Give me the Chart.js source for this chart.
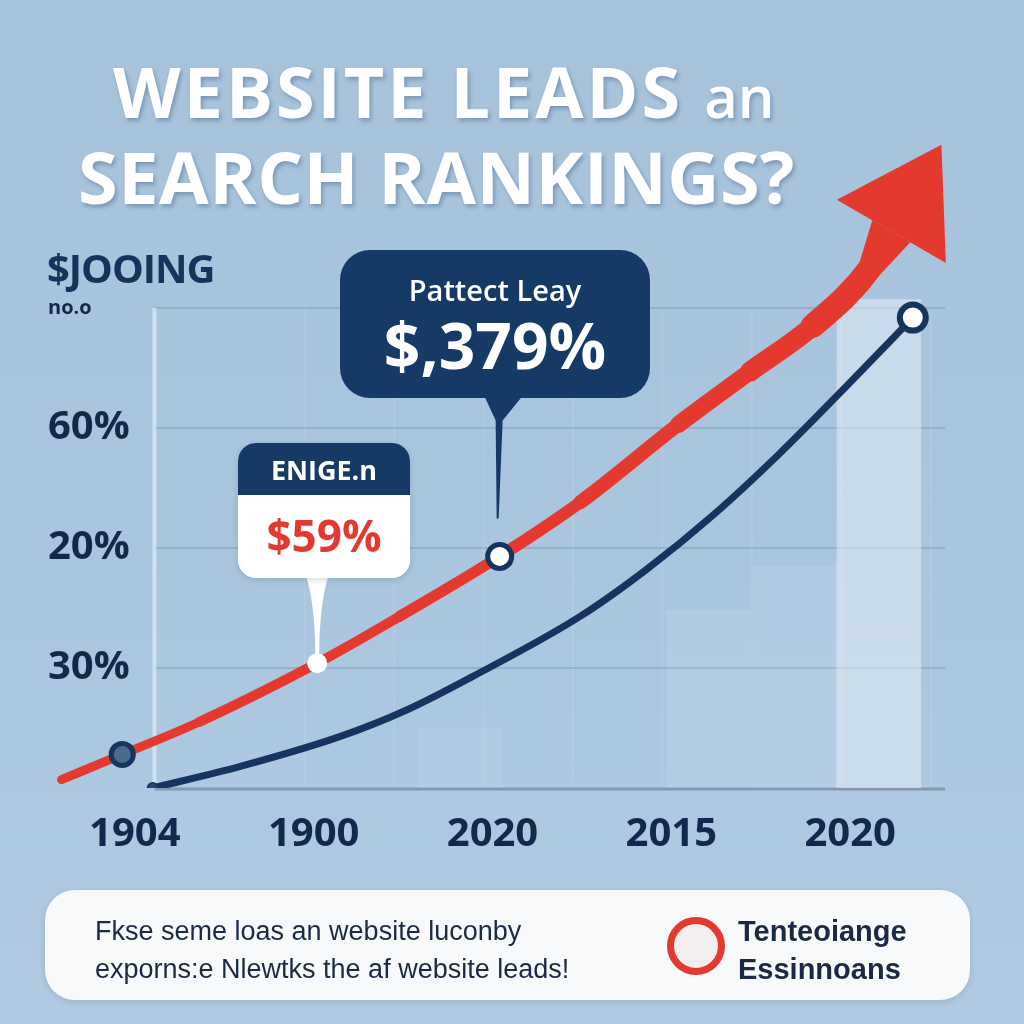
<!DOCTYPE html>
<html>
<head>
<meta charset="utf-8">
<script src="https://cdn.jsdelivr.net/npm/chart.js@4.4.1/dist/chart.umd.min.js"></script>
<style>
  html, body { margin:0; padding:0; }
  body {
    width:1024px; height:1024px; overflow:hidden; position:relative;
    background:linear-gradient(180deg, #a7c3dc 0%, #aac6df 55%, #b0cbe2 100%);
    font-family:"Open Sans", "Liberation Sans", sans-serif;
  }
  #chart { position:absolute; left:0; top:0; }
  .title {
    position:absolute; color:#fff; font-weight:700; white-space:nowrap;
    text-shadow:2px 3px 4px rgba(40,70,110,0.35); line-height:1;
  }
  #t1 { left:113px; top:56px; font-size:70px; letter-spacing:3px; }
  #t1 span { font-size:58px; font-weight:600; letter-spacing:0; }
  #t2 { left:78px; top:140px; font-size:72px; letter-spacing:0.5px; }
  #ylab {
    position:absolute; left:47px; top:248px; font-size:40px; font-weight:700;
    color:#16335a; letter-spacing:-1px; line-height:1;
  }
  .box { position:absolute; overflow:hidden; text-align:center; }
  #small {
    left:238px; top:443px; width:172px; height:135px; border-radius:18px;
    background:#fff; box-shadow:0 2px 6px rgba(30,60,100,0.2);
  }
  #small .head {
    height:52px; background:#163a66; color:#fff; font-weight:700;
    font-size:27px; line-height:54px;
  }
  #small .val { color:#e23a30; font-weight:700; font-size:44px; line-height:80px; }
  #big {
    left:340px; top:250px; width:310px; height:148px; border-radius:30px;
    background:#163a66; color:#fff;
  }
  #big .head { font-size:29px; font-weight:600; margin-top:20px; line-height:40px; }
  #big .val { font-size:64px; font-weight:700; line-height:70px; }
  #banner {
    position:absolute; left:45px; top:890px; width:925px; height:110px;
    border-radius:30px; background:#f7f9fb; box-shadow:0 2px 6px rgba(30,60,100,0.15);
  }
  #btext {
    position:absolute; left:50px; top:22px; font-family:"Liberation Sans", Arial, sans-serif;
    font-size:27px; line-height:38px; color:#1b2a44;
  }
  #logo {
    position:absolute; left:622px; top:27px; width:44px; height:44px; border-radius:50%;
    border:7px solid #e23a30; background:#f3eeee;
  }
  #lname {
    position:absolute; left:693px; top:22px; font-family:"Liberation Sans", Arial, sans-serif;
    font-size:29px; font-weight:700; line-height:38px; color:#1b2a44;
  }
</style>
</head>
<body>
<canvas id="chart" width="1024" height="1024"></canvas>

<div class="title" id="t1">WEBSITE LEADS <span>an</span></div>
<div class="title" id="t2">SEARCH RANKINGS?</div>
<div id="ylab">$JOOING</div>

<div class="box" id="big">
  <div class="head">Pattect Leay</div>
  <div class="val">$,379%</div>
</div>
<div class="box" id="small">
  <div class="head">ENIGE.n</div>
  <div class="val">$59%</div>
</div>

<div id="banner">
  <div id="btext">Fkse seme loas an website luconby<br>exporns:e Nlewtks the af website leads!</div>
  <div id="logo"></div>
  <div id="lname">Tenteoiange<br>Essinnoans</div>
</div>

<script>
// x categories sit at positions 0..4
const xLabels = ["1904", "1900", "2020", "2015", "2020"];
// y levels 1..4 (labels as printed)
const yTickLabels = ["30%", "20%", "60%", "no.o"];

// red "leads" line, last point is the arrow tip
const leadsX = [-0.41, -0.07, 0.36, 1.02, 1.48, 2.04, 2.49, 3.04, 3.44, 3.79, 4.11, 4.51];
const leadsY = [0.07, 0.28, 0.55, 1.04, 1.43, 1.93, 2.38, 3.03, 3.47, 3.85, 4.33, 5.36];

// navy "rankings" line
const rankX = [0.10, 0.59, 1.15, 1.52, 1.89, 2.49, 2.86, 3.23, 3.60, 3.98, 4.35];
const rankY = [0.00, 0.18, 0.43, 0.65, 0.93, 1.43, 1.82, 2.27, 2.78, 3.35, 3.92];

// faint background panels
const panelX = [1.82, 3.21, 3.69, 4.16];
const panelY = [0.50, 1.48, 1.84, 4.07];

const NAVY = "#15355e";
const RED = "#e4392e";
const redWidths = [9, 9, 10, 10, 11, 12, 14, 17, 20, 24];

const pts = (xs, ys) => xs.map((x, i) => ({ x: x, y: ys[i] }));

const gridPlugin = {
  id: "grid",
  beforeDatasetsDraw(chart) {
    const { ctx, scales: { x, y } } = chart;
    const left = x.getPixelForValue(0.11);
    const right = x.getPixelForValue(4.53);
    ctx.save();
    ctx.strokeStyle = "rgba(255,255,255,0.10)";
    ctx.lineWidth = 1.5;
    for (let v = 1; v <= 4.5; v += 0.5) {
      const px = x.getPixelForValue(v - 0.05);
      ctx.beginPath();
      ctx.moveTo(px, y.getPixelForValue(4));
      ctx.lineTo(px, y.getPixelForValue(0));
      ctx.stroke();
    }
    ctx.strokeStyle = "rgba(80,118,158,0.35)";
    ctx.lineWidth = 1.5;
    [1, 2, 3, 4].forEach(v => {
      const py = y.getPixelForValue(v);
      ctx.beginPath();
      ctx.moveTo(left, py);
      ctx.lineTo(right, py);
      ctx.stroke();
    });
    ctx.strokeStyle = "rgba(232,241,250,0.6)";
    ctx.lineWidth = 4;
    ctx.beginPath();
    ctx.moveTo(left, y.getPixelForValue(4));
    ctx.lineTo(left, y.getPixelForValue(0));
    ctx.stroke();
    ctx.strokeStyle = "rgba(120,142,165,0.8)";
    ctx.lineWidth = 3;
    ctx.beginPath();
    ctx.moveTo(left, y.getPixelForValue(0) + 1);
    ctx.lineTo(right, y.getPixelForValue(0) + 1);
    ctx.stroke();
    ctx.restore();
  }
};

const arrowPlugin = {
  id: "arrow",
  afterDatasetsDraw(chart) {
    const ctx = chart.ctx;
    const p = chart.getDatasetMeta(1).data;
    const tip = p[p.length - 1];
    const prev = p[p.length - 2];
    let dx = tip.x - prev.x, dy = tip.y - prev.y;
    const len = Math.hypot(dx, dy);
    dx /= len; dy /= len;
    const bx = tip.x - dx * 100, by = tip.y - dy * 100;
    const hw = redWidths[redWidths.length - 1] / 2;
    ctx.save();
    ctx.fillStyle = RED;
    // neck joining the shaft to the head
    ctx.beginPath();
    ctx.moveTo(prev.x - dy * hw, prev.y + dx * hw);
    ctx.lineTo(bx - dy * 22, by + dx * 22);
    ctx.lineTo(bx + dy * 22, by - dx * 22);
    ctx.lineTo(prev.x + dy * hw, prev.y - dx * hw);
    ctx.closePath();
    ctx.fill();
    // head
    ctx.beginPath();
    ctx.moveTo(tip.x, tip.y);
    ctx.lineTo(bx - dy * 63, by + dx * 63);
    ctx.lineTo(bx + dy * 63, by - dx * 63);
    ctx.closePath();
    ctx.fill();

    // stem of the small white callout
    const a = p[3];
    ctx.fillStyle = "#ffffff";
    ctx.beginPath();
    ctx.moveTo(a.x - 12, a.y - 90);
    ctx.lineTo(a.x + 12, a.y - 90);
    ctx.quadraticCurveTo(a.x + 2, a.y - 60, a.x + 2, a.y - 8);
    ctx.lineTo(a.x - 2, a.y - 8);
    ctx.quadraticCurveTo(a.x - 2, a.y - 60, a.x - 12, a.y - 90);
    ctx.fill();

    // stem of the big navy callout
    const b = p[5];
    ctx.fillStyle = "#163a66";
    ctx.beginPath();
    ctx.moveTo(b.x - 16, b.y - 162);
    ctx.lineTo(b.x + 24, b.y - 162);
    ctx.lineTo(b.x + 3, b.y - 136);
    ctx.lineTo(b.x - 1, b.y - 38);
    ctx.lineTo(b.x - 3, b.y - 38);
    ctx.lineTo(b.x - 4, b.y - 136);
    ctx.closePath();
    ctx.fill();
    ctx.restore();
  }
};

new Chart(document.getElementById("chart"), {
  data: {
    datasets: [
      {
        type: "line",
        data: pts(rankX, rankY),
        borderColor: NAVY,
        borderWidth: 7,
        borderCapStyle: "round",
        cubicInterpolationMode: "monotone",
        pointRadius: [5, 0, 0, 0, 0, 0, 0, 0, 0, 0, 13],
        pointBorderWidth: [2, 0, 0, 0, 0, 0, 0, 0, 0, 0, 6],
        pointBackgroundColor: ["#2c4668", NAVY, NAVY, NAVY, NAVY, NAVY, NAVY, NAVY, NAVY, NAVY, "#ffffff"],
        pointBorderColor: NAVY,
        order: 1
      },
      {
        type: "line",
        data: pts(leadsX, leadsY),
        borderColor: RED,
        borderWidth: 9,
        borderCapStyle: "round",
        cubicInterpolationMode: "monotone",
        segment: {
          borderWidth: c => redWidths[c.p0DataIndex] || 24,
          borderColor: c => c.p0DataIndex >= leadsX.length - 2 ? "rgba(0,0,0,0)" : RED
        },
        pointRadius: [0, 11, 0, 10, 0, 12, 0, 0, 0, 0, 0, 0],
        pointBorderWidth: [0, 5, 0, 0, 0, 5, 0, 0, 0, 0, 0, 0],
        pointBackgroundColor: ["#fff", "#4b6a8c", "#fff", "#ffffff", "#fff", "#ffffff", "#fff", "#fff", "#fff", "#fff", "#fff", "#fff"],
        pointBorderColor: NAVY,
        order: 0
      },
      {
        type: "bar",
        data: pts(panelX, panelY),
        barThickness: 84,
        backgroundColor: ["rgba(255,255,255,0.07)", "rgba(255,255,255,0.09)", "rgba(255,255,255,0.10)", "rgba(255,255,255,0.38)"],
        order: 3
      }
    ]
  },
  options: {
    responsive: false,
    animation: false,
    layout: { padding: { left: 32, right: 79, top: 128, bottom: 168 } },
    plugins: { legend: { display: false }, tooltip: { enabled: false } },
    scales: {
      x: {
        type: "linear",
        min: -0.53,
        max: 4.53,
        offset: false,
        grid: { display: false, drawTicks: false },
        border: { display: false },
        afterBuildTicks: s => { s.ticks = xLabels.map((_, i) => ({ value: i })); },
        afterFit: s => { s.height = 68; s.paddingLeft = 0; s.paddingRight = 0; },
        ticks: {
          padding: 23,
          color: "#11294a",
          maxRotation: 0,
          autoSkip: false,
          font: { family: "Open Sans", size: 40, weight: "bold" },
          callback: v => xLabels[v]
        }
      },
      y: {
        min: 0,
        max: 5.5,
        grid: { display: false, drawTicks: false },
        border: { display: false },
        afterBuildTicks: s => { s.ticks = [1, 2, 3, 4].map(v => ({ value: v })); },
        afterFit: s => { s.width = 8; s.paddingTop = 0; s.paddingBottom = 0; },
        ticks: {
          mirror: true,
          padding: 8,
          color: "#13294b",
          font: c => ({ family: "Open Sans", size: c.tick && c.tick.value === 4 ? 20 : 40, weight: "bold" }),
          callback: v => yTickLabels[v - 1]
        }
      }
    }
  },
  plugins: [gridPlugin, arrowPlugin]
});
</script>
</body>
</html>
